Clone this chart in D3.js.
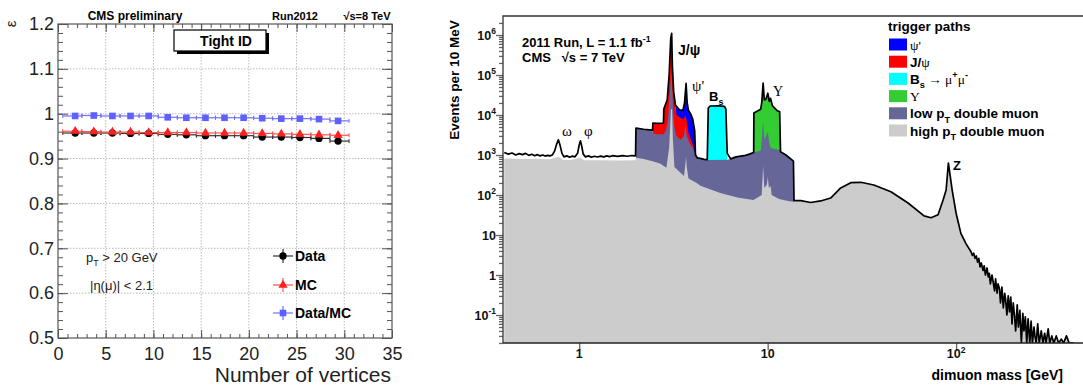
<!DOCTYPE html>
<html>
<head>
<meta charset="utf-8">
<script src="https://cdn.jsdelivr.net/npm/d3@7"></script>
<style>
  body { margin: 0; background: #fff; }
  svg { display: block; font-family: "Liberation Sans", Arial, sans-serif; }
</style>
</head>
<body>
<svg id="chart" width="1083" height="387"></svg>
<script>
// ---------- left panel: Tight ID efficiency vs number of vertices ----------
const vtxEdges = [0.5, 2.5, 4.5, 6.5, 8.5, 10.5, 12.5, 14.5, 16.5, 18.5, 20.5, 22.5, 24.5, 26.5, 28.5, 30.5];
const vtxMean = [1.8, 3.75, 5.7, 7.6, 9.5, 11.5, 13.45, 15.45, 17.45, 19.45, 21.4, 23.4, 25.35, 27.35, 29.35];
const effData = [0.957, 0.957, 0.957, 0.956, 0.956, 0.954, 0.953, 0.951, 0.951, 0.951, 0.948, 0.948, 0.947, 0.945, 0.939];
const effMC = [0.961, 0.960, 0.959, 0.959, 0.958, 0.958, 0.958, 0.957, 0.957, 0.957, 0.956, 0.955, 0.954, 0.953, 0.952];
const effRatio = [0.995, 0.996, 0.995, 0.995, 0.995, 0.992, 0.991, 0.991, 0.991, 0.991, 0.990, 0.989, 0.989, 0.988, 0.984];
const effErr = [0.003, 0.003, 0.003, 0.003, 0.003, 0.003, 0.003, 0.003, 0.003, 0.003, 0.003, 0.003, 0.003, 0.003, 0.004];
const leftXTicks = [0, 5, 10, 15, 20, 25, 30, 35];
const leftYTicks = [0.5, 0.6, 0.7, 0.8, 0.9, 1.0, 1.1, 1.2];
const leftYLabels = ["0.5", "0.6", "0.7", "0.8", "0.9", "1", "1.1", "1.2"];

// ---------- right panel: dimuon mass spectrum [mass GeV, events] ----------
const totalSpectrum = [
  [0.40,1150],[0.42,1050],[0.44,1120],[0.46,1000],[0.48,1080],[0.50,1020],[0.52,1100],[0.54,980],
  [0.56,1040],[0.58,960],[0.60,1020],[0.62,950],[0.64,1000],[0.66,940],[0.68,980],[0.70,950],
  [0.72,1000],[0.74,1250],[0.76,1900],[0.775,2400],[0.79,1800],[0.81,1100],[0.83,900],[0.86,950],
  [0.89,880],[0.92,940],[0.95,900],[0.98,1100],[1.00,1800],[1.015,2250],[1.03,1700],[1.05,1050],
  [1.08,900],[1.12,950],[1.16,880],[1.20,930],[1.25,890],[1.30,940],[1.35,900],[1.40,950],
  [1.45,910],[1.50,960],[1.60,920],[1.70,960],[1.80,930],[1.90,970],[1.99,950],
  [2.00,4700],[2.20,4400],[2.45,4200],[2.46,6300],[2.60,6200],[2.80,6300],[2.81,14000],[2.93,23700],
  [3.00,100000],[3.06,840000],[3.095,1100000],[3.12,180000],[3.17,38000],[3.24,17800],[3.40,13500],
  [3.55,13000],[3.62,20000],[3.69,62000],[3.74,20000],[3.80,13000],[3.89,11000],[4.00,8000],[4.10,4000],
  [4.14,1000],[4.23,850],[4.40,820],[4.60,780],[4.78,760],[4.84,15000],[4.95,16800],[5.50,17000],
  [5.90,16500],[6.00,14000],[6.10,1100],[6.36,800],[6.80,900],[7.50,960],[8.00,1050],[8.43,1150],
  [8.45,11200],[9.18,14000],[9.30,20000],[9.46,63000],[9.60,23700],[9.80,25000],[10.02,35000],
  [10.20,22000],[10.36,26000],[10.60,17000],[11.20,13000],[11.58,12000],[11.70,1200],[12.50,1000],
  [13.70,700],[13.80,72],[15.0,72],[16.9,65],[19.1,71],[21.6,84],[24.4,150],[27.6,203],[31.2,208],
  [36.6,178],[45.1,121],[55.6,63],[67.6,30],[73.6,27],[80.2,32],[85.3,75],[88.5,133],[91.0,630],
  [92.9,316],[95.3,133],[100,35],[106,11],[113,6],[120,3.8],[122,3.1],[124,3.5],[126,2.6],[128,3.0],
  [130,2.1],[132,2.6],[134,1.6],[136,2.0],[139,1.3],[141,1.7],[143,1.0],[146,1.5],[148,0.9],[150,1.1],
  [152,0.6],[155,1.0],[157,0.7],[160,0.4],[162,0.8],[165,0.35],[167,0.6],[170,0.45],[172,0.2],
  [175,0.5],[178,0.15],[181,0.35],[183,0.25],[186,0.1],[189,0.3],[192,0.12],[195,0.28],[198,0.06],
  [201,0.2],[204,0.1],[207,0.04],[211,0.18],[214,0.05],[218,0.13],[222,0.02],[226,0.11],[229,0.04],
  [233,0.09],[237,0.01],[241,0.08],[246,0.02],[250,0.07],[254,0.01],[259,0.05],[262,0.03],[266,0.01],
  [271,0.06],[276,0.01],[283,0.04],[289,0.01],[295,0.035],[300,0.01],[308,0.045],[314,0.01],
  [322,0.03],[330,0.01],[340,0.03],[350,0.01],[362,0.025],[372,0.01],[385,0.03],[398,0.01],[420,0.01]
];
const highPtLow = [
  [0.40,820],[0.50,800],[0.60,790],[0.70,780],[0.775,900],[0.82,760],[0.90,750],[1.015,850],
  [1.06,740],[1.30,740],[1.60,730],[1.99,740],[2.00,850],[2.20,800],[2.45,700],[2.70,600],[2.90,480],
  [3.00,1500],[3.07,14000],[3.11,14000],[3.14,2500],[3.20,500],[3.40,380],[3.60,300],[3.66,600],
  [3.69,900],[3.72,500],[3.80,260],[4.20,200],[4.40,170],[5.60,112],[7.00,85],[8.40,75],[9.30,100],
  [9.46,530],[9.60,150],[9.90,180],[10.02,282],[10.15,150],[10.36,170],[10.50,100],[11.50,80],
  [13.00,70],[13.80,68]
];
const lowPtTop = [
  [2.00,4700],[2.20,4400],[2.45,4200],[2.46,3500],[2.60,3300],[2.80,3300],[2.88,4000],[2.95,7000],
  [3.02,30000],[3.08,110000],[3.11,60000],[3.15,12000],[3.20,5000],[3.28,3000],[3.45,2400],[3.60,3000],
  [3.66,5600],[3.72,3000],[3.85,2000],[4.00,1500],[4.14,1000],[4.23,850],[4.40,820],[4.60,780],
  [4.78,760],[4.84,750],[6.10,760],[6.36,800],[6.80,900],[7.50,960],[8.00,1050],[8.45,1150],[9.20,1300],
  [9.46,6800],[9.62,2400],[10.02,3800],[10.20,2000],[10.36,1500],[11.58,1330],[11.70,1200],
  [12.50,1000],[13.70,700],[13.80,68]
];
const jpsiTop = [
  [2.46,6300],[2.60,6200],[2.80,6300],[2.81,14000],[2.93,23700],[3.00,100000],[3.06,840000],
  [3.095,1100000],[3.12,180000],[3.17,38000],[3.24,17000],[3.28,10000],[3.45,8400],[3.58,7900],
  [3.66,10000],[3.72,7000],[3.80,3500],[3.98,2000],[4.14,1000]
];
const psiPrimeRange = [3.24, 4.14];
const bsRange = [4.78, 6.10];
const upsilonRange = [8.43, 11.70];
const rightYDecades = [-1, 0, 1, 2, 3, 4, 5, 6];
const rightXTicks = [1, 10, 100];

const legendRows = [
  { color: "#0000ff", parts: [{ t: "ψ'", serif: true }] },
  { color: "#ff0000", parts: [{ t: "J/" }, { t: "ψ", serif: true }] },
  { color: "#00ffff", parts: [{ t: "B" }, { t: "s", sub: true }, { t: " → μ", serif: true }, { t: "+", sup: true }, { t: "μ", serif: true }, { t: "-", sup: true }] },
  { color: "#33cc33", parts: [{ t: "Υ", serif: true }] },
  { color: "#666699", parts: [{ t: "low p" }, { t: "T", sub: true }, { t: " double muon" }] },
  { color: "#cccccc", parts: [{ t: "high p" }, { t: "T", sub: true }, { t: " double muon" }] }
];

const svg = d3.select("#chart");

// text with sub/superscripts
function richText(sel, x, y, parts, size, opt = {}) {
  const t = sel.append("text").attr("x", x).attr("y", y)
    .attr("font-size", size).attr("font-weight", opt.weight || "bold")
    .attr("text-anchor", opt.anchor || "start").attr("fill", opt.fill || "#000")
    .style("white-space", "pre");
  let shift = 0;
  parts.forEach(p => {
    const target = p.sup ? -size * 0.42 : p.sub ? size * 0.32 : 0;
    const sp = t.append("tspan").attr("dy", target - shift).text(p.t);
    shift = target;
    if (p.sup || p.sub) sp.attr("font-size", size * 0.68);
    if (p.serif) sp.attr("font-family", "'Liberation Serif', 'DejaVu Serif', serif").attr("font-weight", "normal");
  });
  return t;
}

// ================= LEFT PANEL =================
const L = { left: 58, right: 392, top: 24, bottom: 338 };
const xL = d3.scaleLinear().domain([0, 35]).range([L.left, L.right]);
const yL = d3.scaleLinear().domain([0.5, 1.2]).range([L.bottom, L.top]);
const gl = svg.append("g");

// grid
gl.append("g").selectAll("line").data(leftXTicks.filter(d => d > 0 && d < 35)).join("line")
  .attr("x1", d => xL(d)).attr("x2", d => xL(d)).attr("y1", L.top).attr("y2", L.bottom)
  .attr("stroke", "#bbb").attr("stroke-dasharray", "1.5,1.5");
gl.append("g").selectAll("line").data(leftYTicks.filter(d => d > 0.5 && d < 1.2)).join("line")
  .attr("x1", L.left).attr("x2", L.right).attr("y1", d => yL(d)).attr("y2", d => yL(d))
  .attr("stroke", "#bbb").attr("stroke-dasharray", "1.5,1.5");

const xMinor = d3.range(0, 36, 1);
const yMinor = d3.range(0.5, 1.2001, 0.02);
function styleAxis(g) {
  g.select(".domain").remove();
  g.selectAll(".tick line").attr("stroke", "#555");
  g.selectAll(".tick text").attr("fill", "#222").attr("font-size", 18)
    .attr("font-family", "'Liberation Sans', Arial, sans-serif");
}
gl.append("g").attr("transform", `translate(0,${L.bottom})`)
  .call(d3.axisBottom(xL).tickValues(xMinor).tickSizeInner(-4).tickSizeOuter(0).tickFormat("")).call(styleAxis);
gl.append("g").attr("transform", `translate(0,${L.bottom})`)
  .call(d3.axisBottom(xL).tickValues(leftXTicks).tickSizeInner(-8).tickSizeOuter(0).tickPadding(9)).call(styleAxis);
gl.append("g").attr("transform", `translate(0,${L.top})`)
  .call(d3.axisTop(xL).tickValues(xMinor).tickSizeInner(-4).tickSizeOuter(0).tickFormat("")).call(styleAxis);
gl.append("g").attr("transform", `translate(0,${L.top})`)
  .call(d3.axisTop(xL).tickValues(leftXTicks).tickSizeInner(-8).tickSizeOuter(0).tickFormat("")).call(styleAxis);
gl.append("g").attr("transform", `translate(${L.left},0)`)
  .call(d3.axisLeft(yL).tickValues(yMinor).tickSizeInner(-5).tickSizeOuter(0).tickFormat("")).call(styleAxis);
gl.append("g").attr("transform", `translate(${L.left},0)`)
  .call(d3.axisLeft(yL).tickValues(leftYTicks).tickSizeInner(-10).tickSizeOuter(0).tickPadding(4)
    .tickFormat((d, i) => leftYLabels[i])).call(styleAxis);
gl.append("g").attr("transform", `translate(${L.right},0)`)
  .call(d3.axisRight(yL).tickValues(yMinor).tickSizeInner(-5).tickSizeOuter(0).tickFormat("")).call(styleAxis);
gl.append("g").attr("transform", `translate(${L.right},0)`)
  .call(d3.axisRight(yL).tickValues(leftYTicks).tickSizeInner(-10).tickSizeOuter(0).tickFormat("")).call(styleAxis);

gl.append("rect").attr("x", L.left).attr("y", L.top).attr("width", L.right - L.left).attr("height", L.bottom - L.top)
  .attr("fill", "none").attr("stroke", "#555").attr("stroke-width", 1.2);

// series
const seriesL = [
  { vals: effData, color: "#000", line: "#333", sym: d3.symbolCircle, size: 42 },
  { vals: effMC, color: "#ff2020", line: "#ff5050", sym: d3.symbolTriangle, size: 36 },
  { vals: effRatio, color: "#6060ff", line: "#7070ff", sym: d3.symbolSquare, size: 44 }
];
seriesL.forEach(s => {
  const g = gl.append("g");
  vtxMean.forEach((m, i) => {
    const y = yL(s.vals[i]);
    g.append("line").attr("x1", xL(vtxEdges[i])).attr("x2", xL(vtxEdges[i + 1])).attr("y1", y).attr("y2", y)
      .attr("stroke", s.line).attr("stroke-width", 1.2);
    [vtxEdges[i], vtxEdges[i + 1]].forEach(e => g.append("line")
      .attr("x1", xL(e)).attr("x2", xL(e)).attr("y1", y - 2).attr("y2", y + 2)
      .attr("stroke", s.line).attr("stroke-width", 1));
    g.append("line").attr("x1", xL(m)).attr("x2", xL(m))
      .attr("y1", yL(s.vals[i] + effErr[i])).attr("y2", yL(s.vals[i] - effErr[i]))
      .attr("stroke", s.line).attr("stroke-width", 1.2);
    g.append("path").attr("d", d3.symbol(s.sym, s.size)())
      .attr("transform", `translate(${xL(m)},${y})`).attr("fill", s.color);
  });
});

// legend (left)
const legL = [
  { name: "Data", y: 256 }, { name: "MC", y: 285 }, { name: "Data/MC", y: 313 }
];
legL.forEach((d, i) => {
  const s = seriesL[i];
  gl.append("line").attr("x1", 273).attr("x2", 293).attr("y1", d.y).attr("y2", d.y).attr("stroke", s.line).attr("stroke-width", 1.2);
  gl.append("line").attr("x1", 283).attr("x2", 283).attr("y1", d.y - 7).attr("y2", d.y + 7).attr("stroke", s.line).attr("stroke-width", 1.2);
  gl.append("path").attr("d", d3.symbol(s.sym, s.size)()).attr("transform", `translate(283,${d.y})`).attr("fill", s.color);
  gl.append("text").attr("x", 295).attr("y", d.y + 5).attr("font-size", 14).attr("font-weight", "bold").text(d.name);
});

richText(gl, 86, 262, [{ t: "p" }, { t: "T", sub: true }, { t: " > 20 GeV" }], 13, { weight: "normal", fill: "#222" });
gl.append("text").attr("x", 90).attr("y", 290).attr("font-size", 13).attr("fill", "#222").text("|η(μ)| < 2.1");

// title box
gl.append("rect").attr("x", 177).attr("y", 33).attr("width", 92).attr("height", 21).attr("fill", "#000");
gl.append("rect").attr("x", 174).attr("y", 30).attr("width", 92).attr("height", 21)
  .attr("fill", "#fff").attr("stroke", "#000").attr("stroke-width", 1.2);
gl.append("text").attr("x", 226).attr("y", 46).attr("text-anchor", "middle").attr("font-size", 14).attr("font-weight", "bold").text("Tight ID");

gl.append("text").attr("x", 135).attr("y", 20).attr("text-anchor", "middle").attr("font-size", 12).attr("font-weight", "bold").text("CMS preliminary");
gl.append("text").attr("x", 295).attr("y", 20).attr("text-anchor", "middle").attr("font-size", 11).attr("font-weight", "bold").text("Run2012");
gl.append("text").attr("x", 367).attr("y", 20).attr("text-anchor", "middle").attr("font-size", 11).attr("font-weight", "bold").text("√s=8 TeV");
gl.append("text").attr("transform", "translate(16,24) rotate(-90)").attr("text-anchor", "middle")
  .attr("font-size", 15).attr("fill", "#222").text("ε");
gl.append("text").attr("x", 391).attr("y", 382).attr("text-anchor", "end").attr("font-size", 21).attr("fill", "#222").text("Number of vertices");

// ================= RIGHT PANEL =================
const R = { left: 503, right: 1082, top: 16, bottom: 343 };
const xR = d3.scaleLog().domain([0.394, 460]).range([R.left, 1081]);
const yR = d3.scaleLog().domain([Math.pow(10, -1.7), Math.pow(10, 6.475)]).range([R.bottom, R.top]).clamp(true);
const gr = svg.append("g");
gr.append("clipPath").attr("id", "clipR").append("rect")
  .attr("x", R.left).attr("y", R.top).attr("width", 1083 - R.left).attr("height", R.bottom - R.top);
const plot = gr.append("g").attr("clip-path", "url(#clipR)");

const area = d3.area().x(d => xR(d[0])).y0(R.bottom).y1(d => yR(d[1]));
const inRange = r => totalSpectrum.filter(d => d[0] >= r[0] && d[0] <= r[1]);
const greyTop = highPtLow.concat(totalSpectrum.filter(d => d[0] > 13.8));

plot.append("path").attr("d", area(inRange(psiPrimeRange))).attr("fill", "#0000ff");
plot.append("path").attr("d", area(jpsiTop)).attr("fill", "#ff0000");
plot.append("path").attr("d", area(inRange(bsRange))).attr("fill", "#00ffff");
plot.append("path").attr("d", area(inRange(upsilonRange))).attr("fill", "#33cc33");
plot.append("path").attr("d", area(lowPtTop)).attr("fill", "#666699");
plot.append("path").attr("d", area(greyTop)).attr("fill", "#cccccc");
plot.append("path").attr("d", d3.line().x(d => xR(d[0])).y(d => yR(d[1]))(totalSpectrum))
  .attr("fill", "none").attr("stroke", "#000").attr("stroke-width", 1.7).attr("stroke-linejoin", "round");

// axes
const majorY = rightYDecades.map(e => Math.pow(10, e));
const minorY = [];
d3.range(-2, 7).forEach(e => d3.range(2, 10).forEach(k => {
  const v = k * Math.pow(10, e);
  if (v > yR.domain()[0] && v < yR.domain()[1]) minorY.push(v);
}));
function styleR(g) {
  g.select(".domain").remove();
  g.selectAll(".tick line").attr("stroke", "#666").attr("stroke-width", 1.3);
}
gr.append("g").attr("transform", `translate(${R.left},0)`)
  .call(d3.axisLeft(yR).tickValues(minorY).tickSize(4).tickFormat("")).call(styleR);
gr.append("g").attr("transform", `translate(${R.left},0)`)
  .call(d3.axisLeft(yR).tickValues(majorY).tickSize(7).tickFormat("")).call(styleR);
gr.append("g").attr("transform", `translate(0,${R.bottom})`)
  .call(d3.axisBottom(xR).tickValues(rightXTicks).tickSize(7).tickFormat("")).call(styleR);

gr.append("path").attr("d", `M${R.left},${R.bottom}V${R.top}H1083`).attr("fill", "none").attr("stroke", "#333").attr("stroke-width", 1.3);
gr.append("line").attr("x1", R.left).attr("x2", 1083).attr("y1", R.bottom).attr("y2", R.bottom).attr("stroke", "#222").attr("stroke-width", 1.3);

rightYDecades.forEach(e => {
  const y = yR(Math.pow(10, e)) + 4.5;
  const parts = e === 0 ? [{ t: "1" }] : e === 1 ? [{ t: "10" }] : [{ t: "10" }, { t: String(e), sup: true }];
  richText(gr, 496, y, parts, 12.5, { anchor: "end", fill: "#111" });
});
rightXTicks.forEach(v => {
  const parts = v === 1 ? [{ t: "1" }] : v === 10 ? [{ t: "10" }] : [{ t: "10" }, { t: "2", sup: true }];
  richText(gr, xR(v), 358, parts, 12.5, { anchor: "middle", fill: "#111" });
});

gr.append("text").attr("transform", "translate(459,80) rotate(-90)").attr("text-anchor", "middle")
  .attr("font-size", 13.5).attr("font-weight", "bold").text("Events per 10 MeV");
gr.append("text").attr("x", 1063).attr("y", 380).attr("text-anchor", "end")
  .attr("font-size", 14).attr("font-weight", "bold").text("dimuon mass [GeV]");

// annotations
richText(gr, 522, 47, [{ t: "2011 Run, L = 1.1 fb" }, { t: "-1", sup: true }], 13);
richText(gr, 522, 62, [{ t: "CMS   √s = 7 TeV" }], 13);
richText(gr, 678, 55, [{ t: "J/ψ" }], 14);
richText(gr, 692, 91, [{ t: "ψ'", serif: true }], 15);
richText(gr, 709, 101, [{ t: "B" }, { t: "s", sub: true }], 13);
richText(gr, 773, 96, [{ t: "Υ", serif: true }], 14);
richText(gr, 562, 136, [{ t: "ω", serif: true }], 15);
richText(gr, 584, 136, [{ t: "φ", serif: true }], 15);
richText(gr, 953, 170, [{ t: "Z" }], 13);

// legend (right)
gr.append("text").attr("x", 888).attr("y", 31).attr("font-size", 13.5).attr("font-weight", "bold").text("trigger paths");
legendRows.forEach((d, i) => {
  const cy = 44.5 + i * 17.2;
  gr.append("rect").attr("x", 889).attr("y", cy - 6).attr("width", 18).attr("height", 12).attr("fill", d.color);
  richText(gr, 910, cy + 5, d.parts, 13.5);
});
</script>
</body>
</html>
